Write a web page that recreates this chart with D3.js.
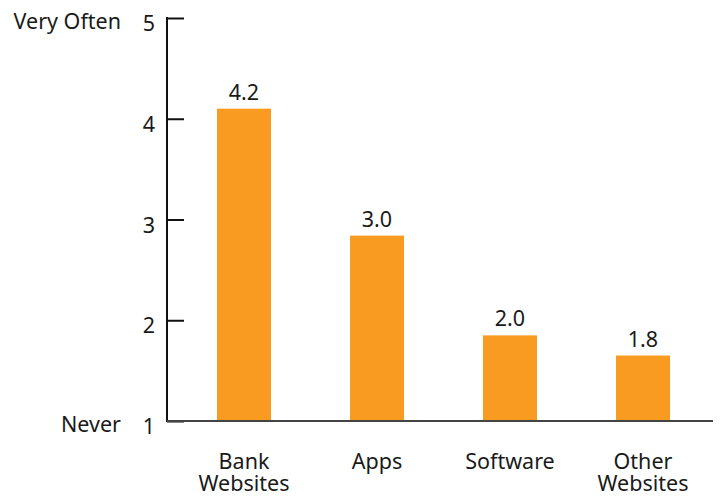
<!DOCTYPE html>
<html>
<head>
<meta charset="utf-8">
<script src="https://cdn.jsdelivr.net/npm/d3@7"></script>
<style>
  html, body { margin: 0; padding: 0; background: #fff; }
  svg { display: block; }
  text { font-family: "Noto Sans", "Open Sans", sans-serif; fill: #1a1a1a; }
</style>
</head>
<body>
<svg id="chart" width="724" height="498"></svg>
<script>
const categories = [["Bank", "Websites"], ["Apps"], ["Software"], ["Other", "Websites"]];
const values = [4.1, 2.84, 1.85, 1.65];
const valueLabels = ["4.2", "3.0", "2.0", "1.8"];
const yTicks = [1, 2, 3, 4, 5];
const yEndLabels = [{ v: 5, text: "Very Often" }, { v: 1, text: "Never" }];

const svg = d3.select("#chart");
const keys = categories.map(c => c.join(" "));
const FS = 21.5;

const x = d3.scaleBand().domain(keys).range([177.5, 709.5]).paddingInner(0.594).paddingOuter(0.297);
const y = d3.scaleLinear().domain([1, 5]).range([421, 18]);

// bars
svg.append("g").selectAll("rect").data(values).join("rect")
  .attr("x", (d, i) => x(keys[i]))
  .attr("width", x.bandwidth())
  .attr("y", d => y(d))
  .attr("height", d => y(1) - y(d))
  .attr("fill", "#F89B20");

// value labels
svg.append("g").selectAll("text").data(values).join("text")
  .attr("x", (d, i) => x(keys[i]) + x.bandwidth() / 2)
  .attr("y", d => y(d) - 9)
  .attr("text-anchor", "middle")
  .attr("font-size", FS)
  .text((d, i) => valueLabels[i]);

// y axis
const yAxis = d3.axisRight(y).tickValues(yTicks).tickSize(17).tickFormat("");
const gy = svg.append("g").attr("transform", "translate(167,0)").call(yAxis);
gy.select(".domain").remove();
gy.selectAll(".tick line").attr("stroke", "#111").attr("stroke-width", 2);
svg.append("line").attr("x1", 167).attr("x2", 167).attr("y1", y(5) - 1).attr("y2", y(1) + 1)
  .attr("stroke", "#111").attr("stroke-width", 2);

// y tick labels
svg.append("g").selectAll("text").data(yTicks).join("text")
  .attr("x", 155).attr("y", d => y(d) + 13)
  .attr("text-anchor", "end")
  .attr("font-size", FS)
  .text(d => d);

svg.append("g").selectAll("text").data(yEndLabels).join("text")
  .attr("x", 121).attr("y", d => y(d.v) + 11)
  .attr("text-anchor", "end")
  .attr("font-size", FS)
  .text(d => d.text);

// x baseline
svg.append("line").attr("x1", 167).attr("x2", 713).attr("y1", y(1)).attr("y2", y(1))
  .attr("stroke", "#444").attr("stroke-width", 2);

// x labels
const gx = svg.append("g");
categories.forEach((lines, i) => {
  const t = gx.append("text")
    .attr("x", x(keys[i]) + x.bandwidth() / 2)
    .attr("y", 469)
    .attr("text-anchor", "middle")
    .attr("font-size", FS);
  lines.forEach((ln, j) => {
    t.append("tspan").attr("x", x(keys[i]) + x.bandwidth() / 2).attr("dy", j === 0 ? 0 : 22).text(ln);
  });
});
</script>
</body>
</html>
